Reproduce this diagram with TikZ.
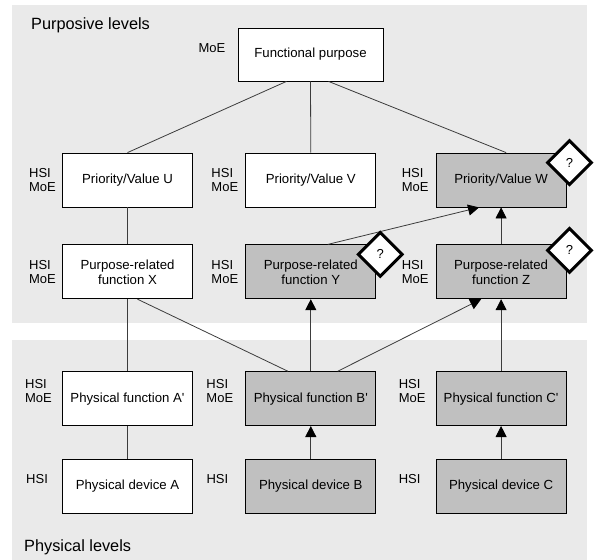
\documentclass[tikz,border=0pt]{standalone}
\usepackage{fontspec}
\setmainfont{Liberation Sans}
\usetikzlibrary{shapes,arrows.meta,positioning}
\definecolor{panelgray}{HTML}{EAEAEA}
\definecolor{boxgray}{HTML}{C0C0C0}
\definecolor{linegray}{HTML}{3C3C3C}

\begin{document}
\begin{tikzpicture}
    %% setup
    [
        x=1pt, y=1pt,
        whitebox/.style={rectangle, draw=black, fill=white, line width=0.8pt, minimum width=130pt, minimum height=54pt, inner sep=0pt, align=center, font=\fontsize{13.2}{15}\selectfont},
        graybox/.style={whitebox, fill=boxgray},
        tagtext/.style={align=left, inner sep=0pt, font=\fontsize{13}{14}\selectfont},
        leveltitle/.style={anchor=west, inner sep=0pt, font=\fontsize{16.3}{18}\selectfont},
        unknownflag/.style={diamond, draw=black, fill=white, line width=3pt, minimum width=45pt, minimum height=45pt, inner sep=0pt, font=\fontsize{13}{15}\selectfont},
        link/.style={draw=linegray, line width=0.8pt},
        supports/.style={link, -{Triangle[length=11pt,width=11pt,color=black]}},
    ]
    \useasboundingbox (0,0) rectangle (598,-560);

    %% Panels
    \fill[panelgray] (12,-5) rectangle (587,-323);
    \fill[panelgray] (12,-340) rectangle (587,-560);
    \node [leveltitle] (purposive) at (31,-25) {Purposive levels};
    \node [leveltitle] (physical) at (24,-547) {Physical levels};

    %% Nodes
    \node [whitebox, minimum width=145pt, minimum height=53pt] (fp) at (310.5,-54.5) {Functional purpose};
    \node [whitebox] (valU) at (127.5,-180) {Priority/Value U};
    \node [whitebox] (valV) [right=52.5pt of valU] {Priority/Value V};
    \node [graybox] (valW) [right=59.5pt of valV] {Priority/Value W};
    \node [whitebox] (funX) [below=37pt of valU] {Purpose-related\\function X};
    \node [graybox] (funY) [below=37pt of valV] {Purpose-related\\function Y};
    \node [graybox] (funZ) [below=37pt of valW] {Purpose-related\\function Z};
    \node [whitebox] (phyA) [below=72pt of funX] {Physical function A\textquotesingle};
    \node [graybox] (phyB) [below=72pt of funY] {Physical function B\textquotesingle};
    \node [graybox] (phyC) [below=72pt of funZ] {Physical function C\textquotesingle};
    \node [whitebox] (devA) [below=33pt of phyA] {Physical device A};
    \node [graybox] (devB) [below=33pt of phyB] {Physical device B};
    \node [graybox] (devC) [below=33pt of phyC] {Physical device C};

    %% Tags
    \node [tagtext] (tagFP) [left=12pt of fp, yshift=6pt] {MoE};
    \node [tagtext] (tagU) [left=6pt of valU] {HSI\\MoE};
    \node [tagtext] (tagV) [left=7pt of valV] {HSI\\MoE};
    \node [tagtext] (tagW) [left=7pt of valW] {HSI\\MoE};
    \node [tagtext] (tagX) [left=6pt of funX] {HSI\\MoE};
    \node [tagtext] (tagY) [left=7pt of funY] {HSI\\MoE};
    \node [tagtext] (tagZ) [left=7pt of funZ] {HSI\\MoE};
    \node [tagtext] (tagA) [left=10pt of phyA, yshift=8pt] {HSI\\MoE};
    \node [tagtext] (tagB) [left=12pt of phyB, yshift=8pt] {HSI\\MoE};
    \node [tagtext] (tagC) [left=10pt of phyC, yshift=8pt] {HSI\\MoE};
    \node [tagtext] (tagDA) [left=14pt of devA, yshift=7pt] {HSI};
    \node [tagtext] (tagDB) [left=17pt of devB, yshift=7pt] {HSI};
    \node [tagtext] (tagDC) [left=15pt of devC, yshift=7pt] {HSI};

    %% Lines
    \draw[link] ([xshift=-24pt]fp.south) -- (valU.north);
    \draw[link] (fp.south) -- (valV.north);
    \draw[link] ([xshift=18pt]fp.south) -- ([xshift=5pt]valW.north);
    \draw[link] (valU) -- (funX);
    \draw[link] (funX) -- (phyA);
    \draw[link] (phyA) -- (devA);
    \draw[link] ([xshift=10pt]funX.south) -- ([xshift=-23pt]phyB.north);
    \draw[supports] (phyB) -- (funY);
    \draw[supports] ([xshift=27pt]phyB.north) -- ([xshift=-20pt]funZ.south);
    \draw[supports] ([xshift=17pt]funY.north) -- ([xshift=-22pt]valW.south);
    \draw[supports] (funZ) -- (valW);
    \draw[supports] (phyC) -- (funZ);
    \draw[supports] (devB) -- (phyB);
    \draw[supports] (devC) -- (phyC);

    %% Flags
    \node [unknownflag] (qY) at ([xshift=4pt,yshift=-10pt]funY.north east) {?};
    \node [unknownflag] (qW) at ([xshift=3pt,yshift=-10pt]valW.north east) {?};
    \node [unknownflag] (qZ) at ([xshift=3pt,yshift=-6pt]funZ.north east) {?};
\end{tikzpicture}
\end{document}
